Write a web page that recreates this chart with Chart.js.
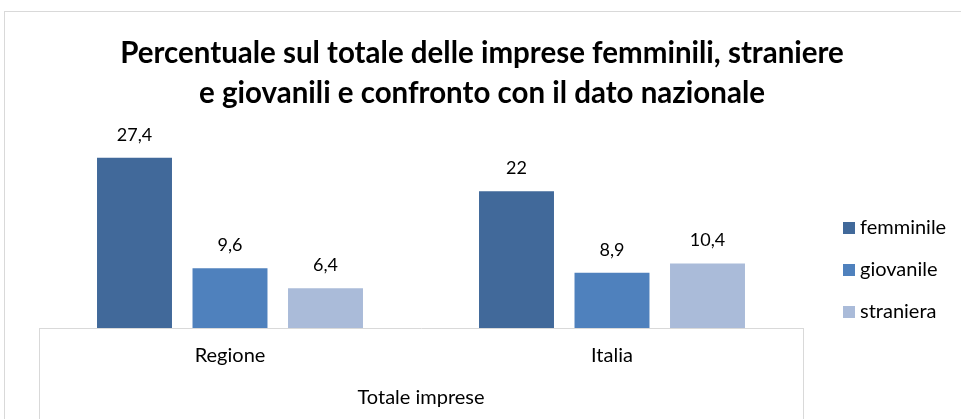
<!DOCTYPE html>
<html>
<head>
<meta charset="utf-8">
<script src="https://cdn.jsdelivr.net/npm/chart.js@4.4.1/dist/chart.umd.min.js"></script>
<style>
  html, body { margin: 0; padding: 0; background: #fff; overflow: hidden; }
  #box {
    position: absolute; left: 4px; top: 11px;
    width: 960px; height: 420px;
    border: 1px solid #d9d9d9; background: #fff;
  }
  #wrap { position: absolute; left: 0; top: 0; width: 956px; height: 407px; }
</style>
</head>
<body>
<div id="box"><div id="wrap"><canvas id="chart"></canvas></div></div>
<script>
const categories = ["Regione", "Italia"];
const seriesNames = ["femminile", "giovanile", "straniera"];
const femminile = [27.4, 22];
const giovanile = [9.6, 8.9];
const straniera = [6.4, 10.4];
const seriesColors = ["#41699A", "#4F81BD", "#AABBD9"];
const axisTitle = "Totale imprese";
const chartTitle = [
  "Percentuale sul totale delle imprese femminili, straniere",
  "e giovanili e confronto con il dato nazionale",
];

const FONT = "Lato, 'Open Sans', sans-serif";

// value labels above the bars, italian decimal comma
const valueLabels = {
  id: "valueLabels",
  afterDatasetsDraw(chart) {
    const ctx = chart.ctx;
    ctx.save();
    ctx.font = "18px " + FONT;
    ctx.fillStyle = "#000";
    ctx.textAlign = "center";
    ctx.textBaseline = "middle";
    chart.data.datasets.forEach((ds, i) => {
      chart.getDatasetMeta(i).data.forEach((bar, j) => {
        ctx.fillText(String(ds.data[j]).replace(".", ","), bar.x, bar.y - 23);
      });
    });
    ctx.restore();
  },
};

// side lines of the category axis box
const axisBox = {
  id: "axisBox",
  afterDraw(chart) {
    const x = chart.scales.x;
    const ctx = chart.ctx;
    ctx.save();
    ctx.strokeStyle = "#d9d9d9";
    ctx.lineWidth = 1;
    ctx.beginPath();
    ctx.moveTo(Math.round(x.left) + 0.5, chart.chartArea.bottom);
    ctx.lineTo(Math.round(x.left) + 0.5, chart.height);
    ctx.moveTo(Math.round(x.right) + 0.5, chart.chartArea.bottom);
    ctx.lineTo(Math.round(x.right) + 0.5, chart.height);
    ctx.stroke();
    ctx.restore();
  },
};

// legend at the right, away from the plot
const sideLegend = {
  id: "sideLegend",
  afterDraw(chart) {
    const ctx = chart.ctx;
    const left = chart.chartArea.right + 40;
    ctx.save();
    ctx.font = "20px " + FONT;
    ctx.textBaseline = "middle";
    ctx.textAlign = "left";
    chart.data.datasets.forEach((ds, i) => {
      const y = 216 + i * 42;
      ctx.fillStyle = ds.backgroundColor;
      ctx.fillRect(left, y - 6, 12, 12);
      ctx.fillStyle = "#000";
      ctx.fillText(ds.label, left + 17, y);
    });
    ctx.restore();
  },
};

new Chart(document.getElementById("chart"), {
  type: "bar",
  data: {
    labels: categories,
    datasets: [
      { label: seriesNames[0], data: femminile, backgroundColor: seriesColors[0] },
      { label: seriesNames[1], data: giovanile, backgroundColor: seriesColors[1] },
      { label: seriesNames[2], data: straniera, backgroundColor: seriesColors[2] },
    ],
  },
  options: {
    responsive: true,
    maintainAspectRatio: false,
    animation: false,
    categoryPercentage: 0.75,
    barPercentage: 0.785,
    layout: { padding: { left: 0, right: 2, bottom: 9, top: 0 } },
    plugins: {
      title: {
        display: true,
        text: chartTitle,
        color: "#000",
        font: { family: FONT, size: 29.5, weight: "bold", lineHeight: 40 / 29.5 },
        padding: { top: 21, bottom: 0 },
      },
      legend: { display: false },
      tooltip: { enabled: false },
    },
    scales: {
      x: {
        grid: { display: false, drawTicks: false },
        border: { display: true, color: "#d9d9d9" },
        ticks: { color: "#000", font: { family: FONT, size: 20 }, padding: 16 },
        title: {
          display: true,
          text: axisTitle,
          color: "#000",
          font: { family: FONT, size: 20 },
          padding: { top: 2, bottom: 0 },
        },
      },
      y: {
        min: 0,
        max: 34.6,
        grid: { display: false },
        border: { display: false },
        ticks: { display: false },
        afterFit(scale) { scale.width = 34; },
      },
      // empty right axis just reserves the room for the legend
      side: {
        type: "linear",
        position: "right",
        grid: { display: false },
        border: { display: false },
        ticks: { display: false },
        afterFit(scale) { scale.width = 156; },
      },
    },
  },
  plugins: [valueLabels, axisBox, sideLegend],
});
</script>
</body>
</html>
